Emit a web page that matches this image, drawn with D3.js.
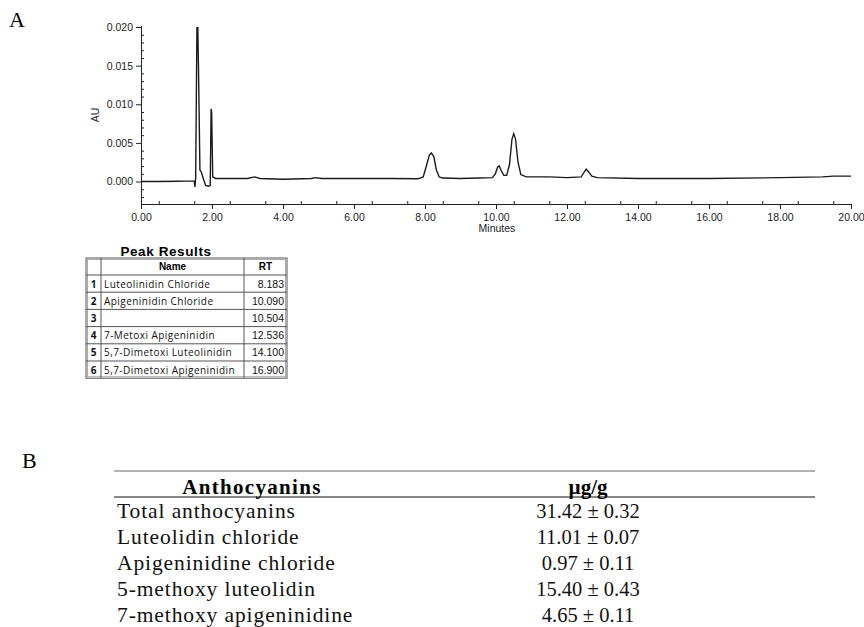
<!DOCTYPE html>
<html>
<head>
<meta charset="utf-8">
<script src="https://cdn.jsdelivr.net/npm/d3@7"></script>
<style>
  body { margin: 0; background: #fff; }
  svg { display: block; }
</style>
</head>
<body>
<svg width="864" height="627"></svg>
<script>
// chromatogram trace (minutes, AU)
var traceTime = [0, 0.5, 1.0, 1.5, 1.52, 1.54, 1.575, 1.6, 1.62, 1.66, 1.7, 1.76, 1.82, 1.9, 1.95,
  1.975, 1.99, 2.02, 2.1, 2.5, 3.0, 3.2, 3.35, 4.0, 4.8, 4.9, 5.1, 6.0, 7.0, 7.8,
  7.95, 8.05, 8.12, 8.18, 8.25, 8.32, 8.4, 8.5, 9.0, 9.5, 9.9, 9.98, 10.05, 10.09, 10.15,
  10.22, 10.3, 10.38, 10.45, 10.5, 10.55, 10.62, 10.7, 10.85, 11.5, 12.0, 12.4, 12.48,
  12.54, 12.6, 12.7, 12.85, 14.0, 16.0, 18.0, 19.2, 19.5, 20.0];
var traceAU = [0.0000, 0.0000, 0.00003, 0.00008, -0.0007, 0.0005, 0.0199, 0.0199, 0.0145, 0.0015, 0.0012, 0.0003, -0.0005, -0.0006, -0.0005,
  0.0094, 0.0090, 0.0006, 0.0004, 0.0004, 0.0004, 0.0006, 0.0004, 0.0003, 0.0004, 0.0005, 0.0004, 0.0004, 0.0004, 0.00035,
  0.0006, 0.0022, 0.0034, 0.0037, 0.0032, 0.0015, 0.0006, 0.00045, 0.0004, 0.00045, 0.0005, 0.0010, 0.0019, 0.0020, 0.0014,
  0.0008, 0.0008, 0.0022, 0.0055, 0.0062, 0.0055, 0.0025, 0.0009, 0.0006, 0.0006, 0.0005, 0.0006, 0.0012,
  0.0016, 0.0013, 0.0007, 0.0005, 0.0004, 0.0004, 0.0005, 0.0006, 0.0007, 0.0007];

var xMajor = [0, 2, 4, 6, 8, 10, 12, 14, 16, 18, 20];
var yMajor = [0, 0.005, 0.010, 0.015, 0.020];

// peak results table
var peakNo = [1, 2, 3, 4, 5, 6];
var peakName = ["Luteolinidin Chloride", "Apigeninidin Chloride", "", "7-Metoxi Apigeninidin",
  "5,7-Dimetoxi Luteolinidin", "5,7-Dimetoxi Apigeninidin"];
var peakRT = ["8.183", "10.090", "10.504", "12.536", "14.100", "16.900"];

// anthocyanin content table
var anthoName = ["Total anthocyanins", "Luteolidin chloride", "Apigeninidine chloride",
  "5-methoxy luteolidin", "7-methoxy apigeninidine"];
var anthoValue = ["31.42 \u00b1 0.32", "11.01 \u00b1 0.07", "0.97 \u00b1 0.11", "15.40 \u00b1 0.43", "4.65 \u00b1 0.11"];

var svg = d3.select("svg");
var serif = "'Liberation Serif', 'Times New Roman', serif";
var sans = "'Liberation Sans', Arial, sans-serif";

// ---- panel A ----
svg.append("text").attr("x", 9).attr("y", 27).text("A")
  .style("font-family", serif).style("font-size", "22px");

var x = d3.scaleLinear().domain([0, 20]).range([141, 851]);
var y = d3.scaleLinear().domain([-0.003, 0.0202]).range([204.7, 25.5]);

var xAxis = svg.append("g").attr("transform", "translate(0,204)")
  .call(d3.axisBottom(x).tickValues(xMajor).tickFormat(d3.format(".2f")).tickSizeInner(5).tickSizeOuter(0));
svg.append("g").attr("transform", "translate(0,204)")
  .call(d3.axisBottom(x).tickValues(d3.range(0.5, 20, 1)).tickFormat("").tickSizeInner(-3).tickSizeOuter(0))
  .select(".domain").remove();

var yAxis = svg.append("g").attr("transform", "translate(141,0)")
  .call(d3.axisLeft(y).tickValues(yMajor).tickFormat(d3.format(".3f")).tickSizeInner(5).tickSizeOuter(0));
var yMinor = [];
for (var i = -2; i <= 20; i++) if (i % 5 != 0) yMinor.push(i / 1000);
svg.append("g").attr("transform", "translate(141,0)")
  .call(d3.axisLeft(y).tickValues(yMinor).tickFormat("").tickSizeInner(-3).tickSizeOuter(0))
  .select(".domain").remove();

svg.selectAll(".tick text").style("font-family", sans).style("font-size", "10.5px").attr("fill", "#222");
svg.selectAll(".domain, .tick line").attr("stroke", "#222");
xAxis.selectAll(".tick text").attr("dy", "0.9em");

svg.append("text").attr("x", 497).attr("y", 232).attr("text-anchor", "middle").text("Minutes")
  .style("font-family", sans).style("font-size", "10.5px").attr("fill", "#222");
svg.append("text").attr("transform", "translate(99,115) rotate(-90)").attr("text-anchor", "middle").text("AU")
  .style("font-family", sans).style("font-size", "10.5px").attr("fill", "#222");

var line = d3.line().x(function (d, i) { return x(traceTime[i]); }).y(function (d) { return y(d); });
svg.append("path").datum(traceAU).attr("d", line)
  .attr("fill", "none").attr("stroke", "#1a1a1a").attr("stroke-width", 1.4);

// ---- peak results ----
svg.append("text").attr("x", 166).attr("y", 256).attr("text-anchor", "middle").text("Peak Results")
  .style("font-family", sans).style("font-size", "13.5px").style("font-weight", "bold").style("letter-spacing", "0.6px");

var tX = [86, 101, 244, 287];
var tTop = 258, hdrH = 17, rowH = 17.2;
var rowY = d3.scaleLinear().domain([0, 1]).range([tTop + hdrH, tTop + hdrH + rowH]);
var tBottom = rowY(peakNo.length);
var tab = svg.append("g").attr("stroke", "#555").attr("stroke-width", 1);
tab.append("rect").attr("x", tX[0]).attr("y", tTop).attr("width", tX[3] - tX[0]).attr("height", tBottom - tTop)
  .attr("fill", "none");
tab.append("rect").attr("x", tX[0] + 1.5).attr("y", tTop + 1.5).attr("width", tX[3] - tX[0] - 3).attr("height", tBottom - tTop - 3)
  .attr("fill", "none").attr("stroke", "#aaa");
tab.selectAll("line.v").data([tX[1], tX[2]]).enter().append("line")
  .attr("x1", function (d) { return d; }).attr("x2", function (d) { return d; })
  .attr("y1", tTop).attr("y2", tBottom);
tab.selectAll("line.h").data(d3.range(0, peakNo.length)).enter().append("line")
  .attr("x1", tX[0]).attr("x2", tX[3])
  .attr("y1", function (d) { return rowY(d); }).attr("y2", function (d) { return rowY(d); });

var hdr = svg.append("g").style("font-family", sans).style("font-size", "10px").style("font-weight", "bold");
hdr.append("text").attr("x", (tX[1] + tX[2]) / 2).attr("y", tTop + 12).attr("text-anchor", "middle").text("Name");
hdr.append("text").attr("x", (tX[2] + tX[3]) / 2).attr("y", tTop + 12).attr("text-anchor", "middle").text("RT");

var rows = svg.append("g").style("font-family", "'Open Sans', sans-serif").style("font-size", "10px").attr("fill", "#111")
  .selectAll("g").data(peakNo).enter().append("g");
rows.append("text").attr("x", (tX[0] + tX[1]) / 2).attr("y", function (d, i) { return rowY(i) + 12.5; })
  .attr("text-anchor", "middle").style("font-weight", "bold").text(function (d) { return d; });
rows.append("text").attr("x", tX[1] + 3).attr("y", function (d, i) { return rowY(i) + 12.5; })
  .style("letter-spacing", "0.45px").text(function (d, i) { return peakName[i]; });
rows.append("text").attr("x", tX[3] - 3).attr("y", function (d, i) { return rowY(i) + 12.5; })
  .attr("text-anchor", "end").style("font-family", sans).style("font-size", "10.5px").text(function (d, i) { return peakRT[i]; });

// ---- panel B ----
svg.append("text").attr("x", 22).attr("y", 468).text("B")
  .style("font-family", serif).style("font-size", "22px");

svg.append("line").attr("x1", 114).attr("x2", 815).attr("y1", 471).attr("y2", 471).attr("stroke", "#999").attr("stroke-width", 1.5);
svg.append("line").attr("x1", 114).attr("x2", 815).attr("y1", 497).attr("y2", 497).attr("stroke", "#111").attr("stroke-width", 1.2);

var bh = svg.append("g").style("font-family", serif).style("font-size", "21px").style("font-weight", "bold");
bh.append("text").attr("x", 252).attr("y", 494).attr("text-anchor", "middle").style("letter-spacing", "1.3px")
  .text("Anthocyanins");
bh.append("text").attr("x", 588).attr("y", 494).attr("text-anchor", "middle").text("\u00b5g/g");

var bY = d3.scaleLinear().domain([0, 1]).range([517.5, 543.5]);
var brows = svg.append("g").style("font-family", serif).style("font-size", "21.5px").attr("fill", "#111")
  .selectAll("g").data(anthoName).enter().append("g");
brows.append("text").attr("x", 117).attr("y", function (d, i) { return bY(i); }).style("letter-spacing", "0.9px")
  .text(function (d) { return d; });
brows.append("text").attr("x", 588).attr("y", function (d, i) { return bY(i); }).attr("text-anchor", "middle")
  .style("font-size", "20.5px").text(function (d, i) { return anthoValue[i]; });
</script>
</body>
</html>
